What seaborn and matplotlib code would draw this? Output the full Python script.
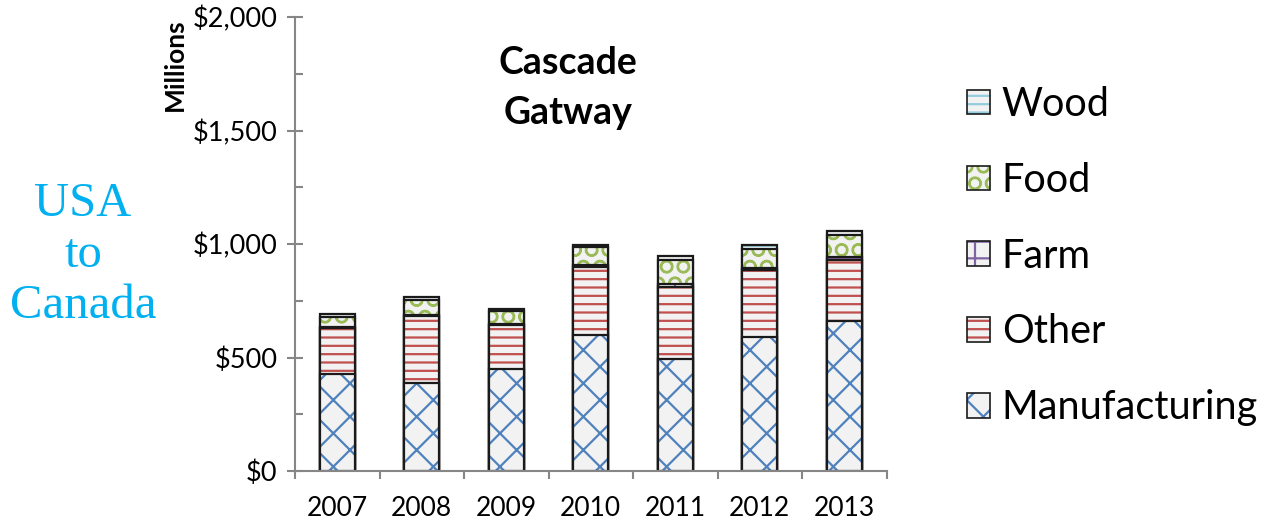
import matplotlib
matplotlib.use("Agg")
import matplotlib.pyplot as plt
from matplotlib.patches import Patch
from matplotlib.legend_handler import HandlerTuple
from matplotlib.ticker import MultipleLocator, FuncFormatter, FixedLocator
import numpy as np
import pandas as pd
import seaborn as sns

# ---------------- data ----------------
years = ["2007", "2008", "2009", "2010", "2011", "2012", "2013"]
manufacturing = [427, 389, 449, 599, 492, 592, 662]
other = [202, 294, 195, 301, 320, 293, 267]
farm = [5, 5, 5, 6, 10, 8, 12]
food = [46, 65, 57, 82, 107, 85, 99]
wood = [12, 15, 8, 9, 18, 18, 17]

series_names = ["Manufacturing", "Other", "Farm", "Food", "Wood"]
series_values = [manufacturing, other, farm, food, wood]
hatch_colors = ["#4f81bd", "#c0504d", "#8064a2", "#9bbb59", "#93cddd"]
hatches = ["x", "--", "+", "O", "--"]

sns.set_theme(style="white")
plt.rcParams["font.family"] = ["Lato", "DejaVu Sans"]
plt.rcParams["hatch.linewidth"] = 1.6
plt.rcParams["text.color"] = "black"

fig = plt.figure(figsize=(12.67, 5.23), dpi=100)
ax = fig.add_axes([295 / 1267, 52 / 523, 591.5 / 1267, 454 / 523])

cum = np.cumsum(np.array(series_values), axis=0)
face = "#f2f2f2"

# draw from top layer downward so lower layers cover
for i in range(len(series_names) - 1, -1, -1):
    df = pd.DataFrame({"year": years, "value": cum[i]})
    sns.barplot(data=df, x="year", y="value", ax=ax, color=face,
                width=0.41, errorbar=None, saturation=1)
    for p in ax.containers[-1]:
        p.set_facecolor(face)
        p.set_edgecolor(hatch_colors[i])
        p.set_hatch(hatches[i])
        p.set_linewidth(0)
    sns.barplot(data=df, x="year", y="value", ax=ax, color=face,
                width=0.41, errorbar=None, saturation=1)
    for p in ax.containers[-1]:
        p.set_facecolor("none")
        p.set_edgecolor("#1a1a1a")
        p.set_hatch(None)
        p.set_linewidth(1.6)

ax.set_xlim(-0.5, len(years) - 0.5)
ax.set_ylim(0, 2000)
ax.set_xlabel("")
ax.set_ylabel("")

# axes styling
for s in ["top", "right"]:
    ax.spines[s].set_visible(False)
for s in ["left", "bottom"]:
    ax.spines[s].set_color("#868686")
    ax.spines[s].set_linewidth(1.5)

ax.yaxis.set_major_locator(MultipleLocator(500))
ax.yaxis.set_minor_locator(MultipleLocator(250))
ax.yaxis.set_major_formatter(FuncFormatter(lambda v, p: f"${v:,.0f}"))
ax.tick_params(axis="y", which="major", direction="inout", length=11, width=1.5,
               color="#868686", labelsize=19.5, pad=7, left=True, labelcolor="black")
ax.tick_params(axis="y", which="minor", direction="in", length=5.5, width=1.5,
               color="#868686", left=True)
ax.xaxis.set_minor_locator(FixedLocator(np.arange(-0.5, len(years), 1.0)))
ax.tick_params(axis="x", which="major", length=0, labelsize=19, pad=18, labelcolor="black")
ax.tick_params(axis="x", which="minor", direction="out", length=6, width=1.5,
               color="#868686", bottom=True)

# texts
fig.text(175 / 1267, 1 - 65 / 523, "Millions", rotation=90, ha="center", va="center",
         fontsize=19, fontweight="bold", color="black")
fig.text(568 / 1267, 1 - 88 / 523, "Cascade\nGatway", ha="center", va="center",
         fontsize=27, fontweight="bold", linespacing=1.55, color="black")
fig.text(83 / 1267, 1 - 255 / 523, "USA\nto\nCanada", ha="center", va="center",
         fontsize=35, color="#00b0f0", family="Liberation Serif", linespacing=1.2)

# legend
handles = []
for i in range(len(series_names) - 1, -1, -1):
    h1 = Patch(facecolor=face, edgecolor=hatch_colors[i], hatch=hatches[i], linewidth=0)
    h2 = Patch(facecolor="none", edgecolor="#1a1a1a", linewidth=1.2)
    handles.append((h1, h2))
labels = series_names[::-1]
leg = fig.legend(handles, labels, handler_map={tuple: HandlerTuple(ndivide=1)},
                 loc="upper left", bbox_to_anchor=(967 / 1267, 1 - 86 / 523),
                 frameon=False, fontsize=28.5, handlelength=0.58, handleheight=0.58,
                 handletextpad=0.3, labelspacing=0.98, borderaxespad=0, borderpad=0)
for t in leg.get_texts():
    t.set_color("black")

fig.savefig("out.png", dpi=100)
